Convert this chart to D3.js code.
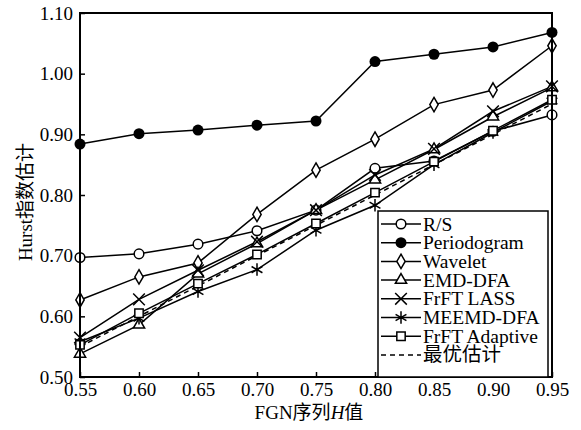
<!DOCTYPE html>
<html>
<head>
<meta charset="utf-8">
<script src="https://cdn.jsdelivr.net/npm/d3@7"></script>
<style>
  body { margin: 0; background: #fff; }
  svg text { font-family: "Liberation Serif", "Noto Sans CJK SC", serif; fill: #000; }
</style>
</head>
<body>
<svg id="chart" width="581" height="430"></svg>
<script>
// FGN H values (x axis)
const hValues = [0.55, 0.60, 0.65, 0.70, 0.75, 0.80, 0.85, 0.90, 0.95];
const xTicks = hValues;
const yTicks = [0.50, 0.60, 0.70, 0.80, 0.90, 1.00, 1.10];

const rsVals          = [0.697, 0.703, 0.719, 0.741, 0.775, 0.844, 0.856, 0.905, 0.932];
const periodogramVals = [0.884, 0.901, 0.907, 0.915, 0.922, 1.020, 1.032, 1.044, 1.068];
const waveletVals     = [0.627, 0.665, 0.688, 0.768, 0.841, 0.892, 0.949, 0.973, 1.046];
const emdDfaVals      = [0.538, 0.586, 0.670, 0.720, 0.775, 0.825, 0.875, 0.929, 0.977];
const frftLassVals    = [0.565, 0.628, 0.676, 0.723, 0.775, 0.833, 0.876, 0.938, 0.979];
const meemdDfaVals    = [0.558, 0.597, 0.641, 0.677, 0.742, 0.783, 0.850, 0.903, 0.955];
const frftAdaptVals   = [0.553, 0.605, 0.654, 0.702, 0.753, 0.804, 0.855, 0.906, 0.957];
const optimalVals     = [0.55, 0.60, 0.65, 0.70, 0.75, 0.80, 0.85, 0.90, 0.95];

const seriesNames = ['R/S', 'Periodogram', 'Wavelet', 'EMD-DFA', 'FrFT LASS', 'MEEMD-DFA', 'FrFT Adaptive', '最优估计'];
const seriesVals = [rsVals, periodogramVals, waveletVals, emdDfaVals, frftLassVals, meemdDfaVals, frftAdaptVals, optimalVals];
const seriesMarks = ['circle', 'dot', 'diamond', 'triangle', 'times', 'asterisk', 'square', null];

const svg = d3.select('#chart');
const mLeft = 80, mRight = 552, mTop = 13, mBottom = 377;

const x = d3.scaleLinear().domain([0.55, 0.95]).range([mLeft, mRight]);
const y = d3.scaleLinear().domain([0.50, 1.10]).range([mBottom, mTop]);

// markers
function marker(g, type, cx, cy) {
    const t = `translate(${cx},${cy})`;
    switch (type) {
        case 'circle':
            g.append('circle').attr('cx', cx).attr('cy', cy).attr('r', 4.8)
                .attr('fill', '#fff').attr('stroke', '#000').attr('stroke-width', 1.5);
            break;
        case 'dot':
            g.append('circle').attr('cx', cx).attr('cy', cy).attr('r', 5.5).attr('fill', '#000');
            break;
        case 'diamond':
            g.append('path').attr('transform', t).attr('d', d3.symbol(d3.symbolDiamond, 60)())
                .attr('fill', '#fff').attr('stroke', '#000').attr('stroke-width', 1.5);
            break;
        case 'triangle':
            g.append('path').attr('transform', t).attr('d', d3.symbol(d3.symbolTriangle, 55)())
                .attr('fill', '#fff').attr('stroke', '#000').attr('stroke-width', 1.5);
            break;
        case 'square':
            g.append('path').attr('transform', t).attr('d', d3.symbol(d3.symbolSquare, 70)())
                .attr('fill', '#fff').attr('stroke', '#000').attr('stroke-width', 1.5);
            break;
        case 'times':
            g.append('path').attr('transform', t).attr('d', d3.symbol(d3.symbolTimes, 90)())
                .attr('fill', 'none').attr('stroke', '#000').attr('stroke-width', 1.5);
            break;
        case 'asterisk':
            g.append('path').attr('transform', t).attr('d', d3.symbol(d3.symbolAsterisk, 110)())
                .attr('fill', 'none').attr('stroke', '#000').attr('stroke-width', 1.5);
            break;
    }
}

// axes (ticks inward)
const yAxis = d3.axisLeft(y).tickValues(yTicks).tickFormat(d3.format('.2f')).tickSizeInner(-5).tickSizeOuter(0).tickPadding(7);
const xAxis = d3.axisBottom(x).tickValues(xTicks).tickFormat(d3.format('.2f')).tickSizeInner(-5).tickSizeOuter(0).tickPadding(8);

const gy = svg.append('g').attr('transform', `translate(${mLeft},0)`).call(yAxis);
const gx = svg.append('g').attr('transform', `translate(0,${mBottom})`).call(xAxis);
[gx, gy].forEach(g => {
    g.select('.domain').remove();
    g.selectAll('.tick line').attr('stroke', '#000').attr('stroke-width', 1.5);
    g.selectAll('.tick text').style('font-size', '19px').style('font-family', '"Liberation Serif", serif');
});
gx.selectAll('.tick text').attr('dy', '0.71em').attr('y', 6);

// series lines
const line = d3.line().x((d, i) => x(hValues[i])).y(d => y(d));
const plot = svg.append('g');
seriesVals.forEach((vals, s) => {
    plot.append('path').datum(vals).attr('d', line)
        .attr('fill', 'none').attr('stroke', '#000').attr('stroke-width', 1.5)
        .attr('stroke-dasharray', seriesMarks[s] ? null : '5,4');
});
seriesVals.forEach((vals, s) => {
    if (!seriesMarks[s]) return;
    vals.forEach((v, i) => marker(plot, seriesMarks[s], x(hValues[i]), y(v)));
});

// frame
svg.append('rect').attr('x', mLeft).attr('y', mTop).attr('width', mRight - mLeft).attr('height', mBottom - mTop)
    .attr('fill', 'none').attr('stroke', '#000').attr('stroke-width', 2);

// legend
const lg = svg.append('g');
const lx = 378, ly = 211, lw = 170, lh = 166, rowH = 18.7;
lg.append('rect').attr('x', lx).attr('y', ly).attr('width', lw).attr('height', lh)
    .attr('fill', '#fff').attr('stroke', '#000').attr('stroke-width', 1.5);
seriesNames.forEach((name, i) => {
    const cy = ly + 13 + i * rowH;
    lg.append('line').attr('x1', lx + 3).attr('x2', lx + 43).attr('y1', cy).attr('y2', cy)
        .attr('stroke', '#000').attr('stroke-width', 1.5)
        .attr('stroke-dasharray', seriesMarks[i] ? null : '5,4');
    if (seriesMarks[i]) marker(lg, seriesMarks[i], lx + 23, cy);
    lg.append('text').attr('x', lx + 45).attr('y', cy + 6.5).style('font-size', '19.5px').text(name);
});

// axis titles
const xt = svg.append('text').attr('x', (253 + 365) / 2).attr('y', 419).attr('text-anchor', 'middle').style('font-size', '19px');
xt.append('tspan').text('FGN序列');
xt.append('tspan').style('font-style', 'italic').text('H');
xt.append('tspan').text('值');

svg.append('text').attr('transform', 'translate(32,202) rotate(-90)').attr('text-anchor', 'middle')
    .style('font-size', '19px').text('Hurst指数估计');
</script>
</body>
</html>
